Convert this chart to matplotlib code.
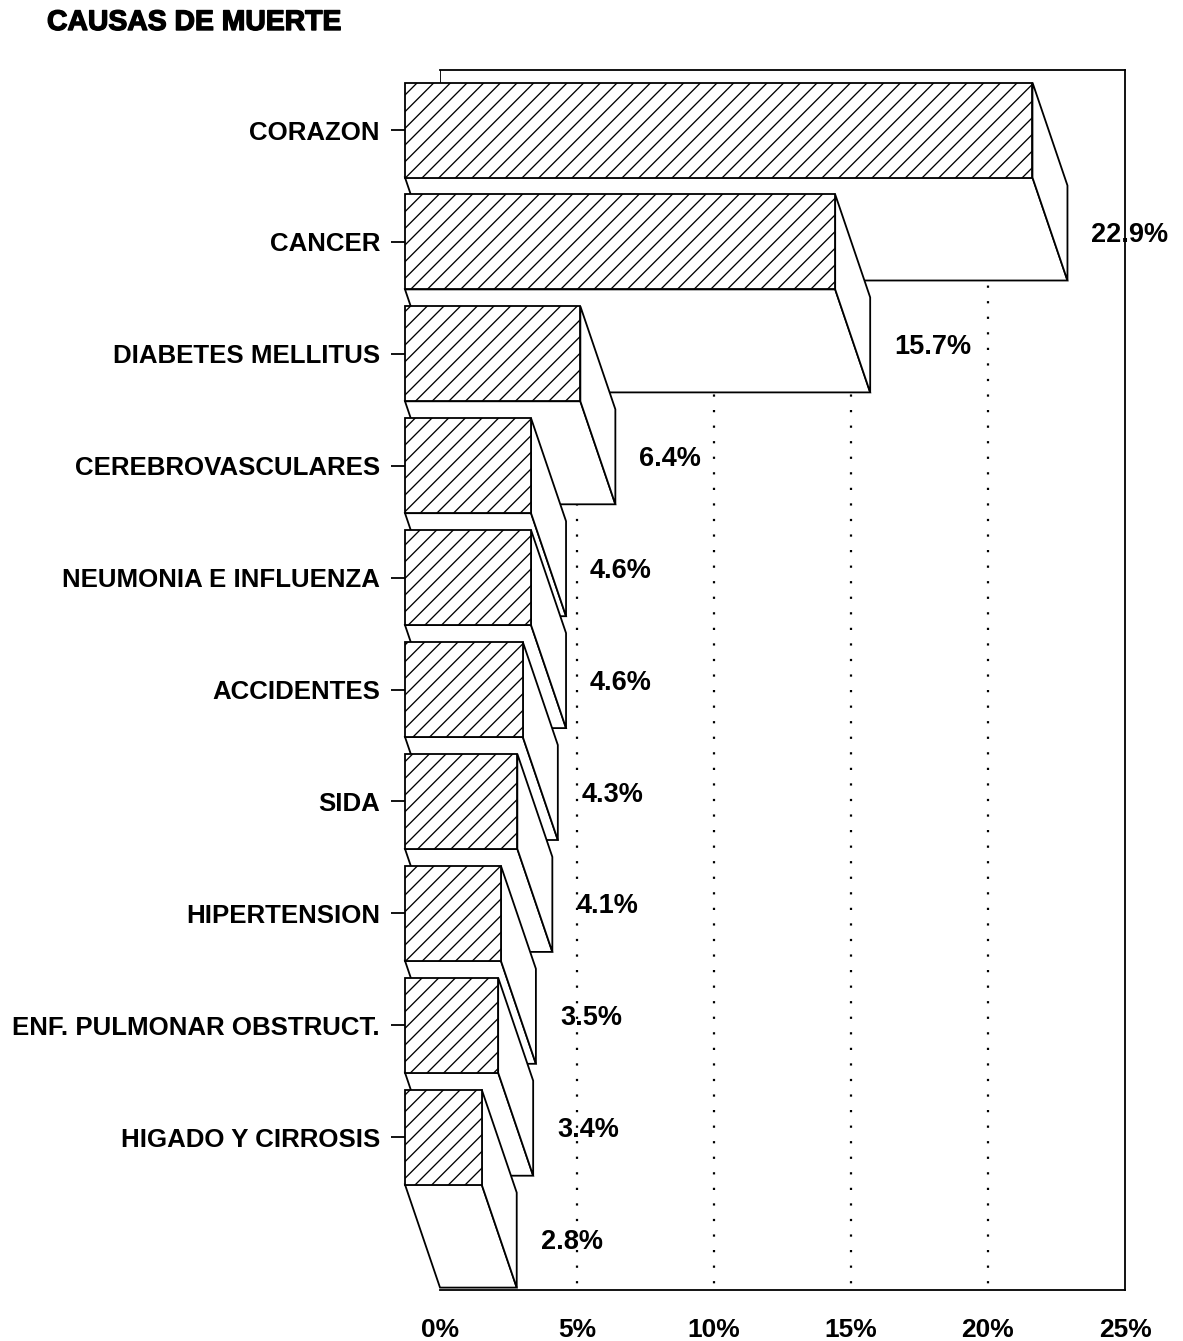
import matplotlib
matplotlib.use("Agg")
import matplotlib.pyplot as plt
import matplotlib.patheffects as pe
from matplotlib.patches import Polygon

title = "CAUSAS DE MUERTE"
categories = ["CORAZON", "CANCER", "DIABETES MELLITUS", "CEREBROVASCULARES",
              "NEUMONIA E INFLUENZA", "ACCIDENTES", "SIDA", "HIPERTENSION",
              "ENF. PULMONAR OBSTRUCT.", "HIGADO Y CIRROSIS"]
values = [22.9, 15.7, 6.4, 4.6, 4.6, 4.3, 4.1, 3.5, 3.4, 2.8]
x_ticks = [0, 5, 10, 15, 20, 25]

W, H = 1183, 1341
L, R, T, B = 440, 1125, 70, 1290
PITCH = 111.9
FIRST = 130
DEPTH_X = 35 / ((R - L) / 25)
DEPTH_Y = 103 / PITCH
HALF = 47.5 / PITCH
LW = 1.3

plt.rcParams["font.family"] = ["Liberation Sans", "DejaVu Sans"]
plt.rcParams["font.weight"] = "bold"
plt.rcParams["hatch.linewidth"] = 0.95

fig = plt.figure(figsize=(W / 100, H / 100), dpi=100)
ax = fig.add_axes([L / W, 1 - B / H, (R - L) / W, (B - T) / H])
ax.set_xlim(0, 25)
y_bottom, y_top = (B - FIRST) / PITCH, (T - FIRST) / PITCH
ax.set_ylim(y_bottom, y_top)

ax.spines["left"].set_position(("outward", 35 * 0.72))
ax.spines["left"].set_visible(False)
for s in ("top", "right", "bottom"):
    ax.spines[s].set_linewidth(LW)

ax.set_yticks(range(len(categories)))
ax.set_yticklabels(categories, fontsize=18.6)
ax.tick_params(axis="y", length=10, width=LW, pad=8)
ax.set_xticks(x_ticks)
ax.set_xticklabels([f"{t}%" for t in x_ticks], fontsize=19)
ax.tick_params(axis="x", length=0, pad=20)

ax.vlines(x_ticks[1:-1], 0, y_bottom, linestyle=(0, (1, 6)), color="black",
          linewidth=1.6, zorder=1)
ax.plot([0, 0], [y_top, 0], color="black", lw=LW, zorder=1)

for i, v in enumerate(values):
    x0, x1 = -DEPTH_X, v - DEPTH_X
    top, bot = i - HALF, i + HALF
    kw = dict(closed=True, facecolor="white", edgecolor="black", linewidth=LW,
              clip_on=False, zorder=3 + i)
    ax.add_patch(Polygon([(x0, bot), (x1, bot), (v, bot + DEPTH_Y), (0, bot + DEPTH_Y)], **kw))
    ax.add_patch(Polygon([(x1, top), (v, top + DEPTH_Y), (v, bot + DEPTH_Y), (x1, bot)], **kw))
    ax.add_patch(Polygon([(x0, top), (x1, top), (x1, bot), (x0, bot)], hatch="//", **kw))
    ax.text(v + 24 / 27.4, i + 105 / PITCH, f"{v}%", fontsize=19.5, ha="left",
            va="center", zorder=20)

fig.text(47 / W, 1 - 23 / H, title, fontsize=20.4, ha="left", va="center",
         path_effects=[pe.withStroke(linewidth=1.0, foreground="black")])

fig.savefig("out.png", dpi=100, facecolor="white")
